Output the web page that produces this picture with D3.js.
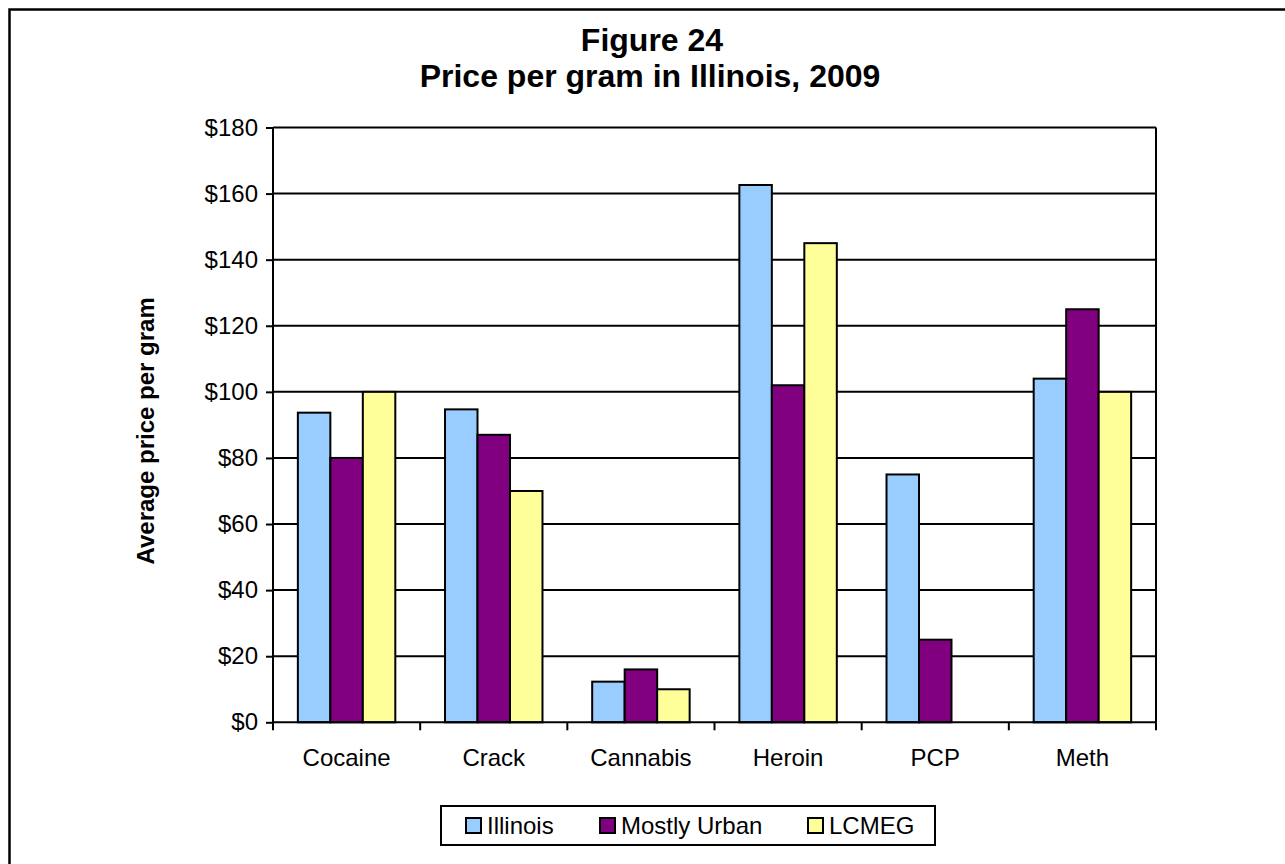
<!DOCTYPE html>
<html>
<head>
<meta charset="utf-8">
<script src="https://cdn.jsdelivr.net/npm/d3@7"></script>
<style>
  html, body { margin: 0; padding: 0; background: #fff; }
  svg { display: block; font-family: "Liberation Sans", Arial, sans-serif; }
</style>
</head>
<body>
<svg id="chart" width="1285" height="864"></svg>
<script>
// Average price per gram by drug and region, 2009
const categories = ["Cocaine", "Crack", "Cannabis", "Heroin", "PCP", "Meth"];
const seriesNames = ["Illinois", "Mostly Urban", "LCMEG"];
const illinois    = [93.7, 94.7, 12.3, 162.6, 75, 104];
const mostlyUrban = [80, 87, 16, 102, 25, 125];
const lcmeg       = [100, 70, 10, 145, null, 100];
const yTicks = [0, 20, 40, 60, 80, 100, 120, 140, 160, 180];
const seriesColors = ["#99CCFF", "#800080", "#FFFF99"];

const seriesValues = [illinois, mostlyUrban, lcmeg];

const svg = d3.select("#chart");

// outer frame
svg.append("rect")
  .attr("x", 9.5).attr("y", 9.5)
  .attr("width", 1320).attr("height", 900)
  .attr("fill", "none").attr("stroke", "#000").attr("stroke-width", 2.5);

const plot = { left: 273, right: 1156, top: 127.5, bottom: 722.3 };

const x = d3.scaleBand()
  .domain(categories)
  .range([plot.left, plot.right])
  .paddingInner(0).paddingOuter(0);

const xInner = d3.scaleBand()
  .domain(seriesNames)
  .range([0, x.bandwidth()])
  .paddingInner(0)
  .paddingOuter(0.765);

const y = d3.scaleLinear()
  .domain([0, 180])
  .range([plot.bottom, plot.top]);

// gridlines
svg.append("g")
  .selectAll("line")
  .data(yTicks.filter(t => t > 0))
  .join("line")
  .attr("x1", plot.left).attr("x2", plot.right)
  .attr("y1", d => y(d)).attr("y2", d => y(d))
  .attr("stroke", "#000").attr("stroke-width", 2);

// bars
const groups = svg.append("g")
  .selectAll("g")
  .data(categories)
  .join("g")
  .attr("transform", d => `translate(${x(d)},0)`);

groups.selectAll("rect")
  .data((c, i) => seriesNames.map((s, j) => ({ s, j, v: seriesValues[j][i] }))
    .filter(d => d.v != null))
  .join("rect")
  .attr("x", d => xInner(d.s))
  .attr("width", xInner.bandwidth())
  .attr("y", d => y(d.v))
  .attr("height", d => y(0) - y(d.v))
  .attr("fill", d => seriesColors[d.j])
  .attr("stroke", "#000")
  .attr("stroke-width", 2);

// y axis
const yAxis = d3.axisLeft(y)
  .tickValues(yTicks)
  .tickSize(7)
  .tickPadding(8)
  .tickFormat(d => "$" + d);

const yg = svg.append("g")
  .attr("transform", `translate(${plot.left},0)`)
  .call(yAxis);
yg.select(".domain").attr("stroke", "#000").attr("stroke-width", 2)
  .attr("d", `M0,${plot.top}V${plot.bottom}`);
yg.selectAll(".tick line").attr("stroke", "#000").attr("stroke-width", 2);
yg.selectAll(".tick text")
  .attr("font-size", 24).attr("fill", "#000")
  .attr("font-family", "Liberation Sans, Arial, sans-serif");

// right border of plot area
svg.append("line")
  .attr("x1", plot.right).attr("x2", plot.right)
  .attr("y1", plot.top).attr("y2", plot.bottom)
  .attr("stroke", "#000").attr("stroke-width", 2);

// x axis with ticks between categories
const xg = svg.append("g")
  .attr("transform", `translate(0,${plot.bottom})`);
xg.append("line")
  .attr("x1", plot.left).attr("x2", plot.right)
  .attr("stroke", "#000").attr("stroke-width", 2);
const boundaries = categories.map(c => x(c)).concat([x(categories[categories.length - 1]) + x.bandwidth()]);
xg.selectAll("line.tick")
  .data(boundaries)
  .join("line")
  .attr("class", "tick")
  .attr("x1", d => d).attr("x2", d => d)
  .attr("y1", 0).attr("y2", 8)
  .attr("stroke", "#000").attr("stroke-width", 2);
xg.selectAll("text")
  .data(categories)
  .join("text")
  .attr("x", d => x(d) + x.bandwidth() / 2)
  .attr("y", 44)
  .attr("text-anchor", "middle")
  .attr("font-size", 24)
  .text(d => d);

// titles
svg.append("text")
  .attr("x", 652).attr("y", 51)
  .attr("text-anchor", "middle")
  .attr("font-size", 32).attr("font-weight", "bold")
  .text("Figure 24");
svg.append("text")
  .attr("x", 650).attr("y", 87)
  .attr("text-anchor", "middle")
  .attr("font-size", 32).attr("font-weight", "bold")
  .text("Price per gram in Illinois, 2009");

// y axis title
svg.append("text")
  .attr("transform", `translate(154,${(plot.top + plot.bottom) / 2 + 6}) rotate(-90)`)
  .attr("text-anchor", "middle")
  .attr("font-size", 24).attr("font-weight", "bold")
  .text("Average price per gram");

// legend
const legend = svg.append("g");
legend.append("rect")
  .attr("x", 441).attr("y", 806)
  .attr("width", 494).attr("height", 39)
  .attr("fill", "#fff").attr("stroke", "#000").attr("stroke-width", 2);
const legendX = [466, 600, 808];
const items = legend.selectAll("g.item")
  .data(seriesNames)
  .join("g")
  .attr("class", "item")
  .attr("transform", (d, i) => `translate(${legendX[i]},818)`);
items.append("rect")
  .attr("width", 15).attr("height", 15)
  .attr("fill", (d, i) => seriesColors[i])
  .attr("stroke", "#000").attr("stroke-width", 2);
items.append("text")
  .attr("x", 21).attr("y", 16)
  .attr("font-size", 24)
  .text(d => d);
</script>
</body>
</html>
